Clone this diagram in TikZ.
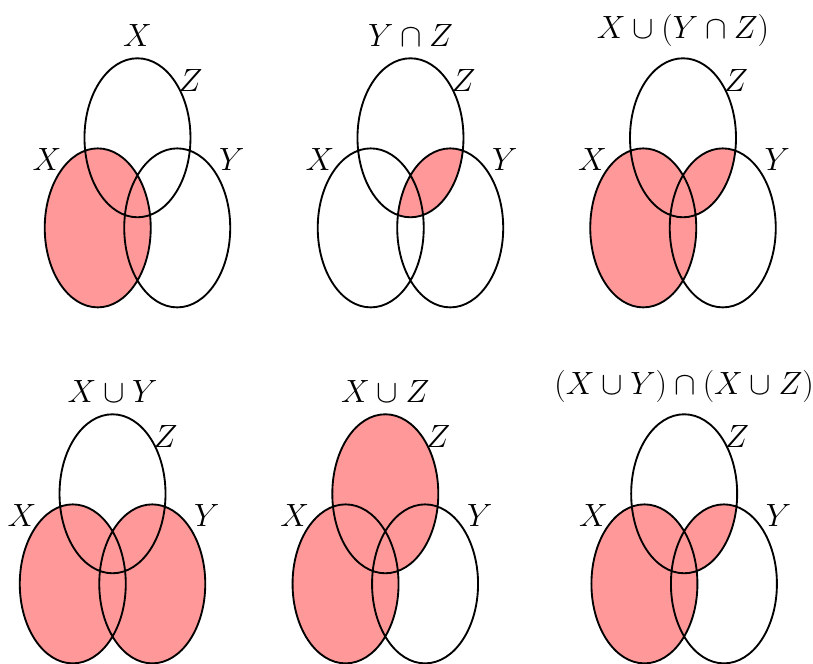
\documentclass[tikz,border=0pt]{standalone}
\usepackage{amsmath}
\usepackage{tikz}
\usetikzlibrary{calc, positioning}

\begin{document}
\begin{tikzpicture}[
    set/.style={draw, line width=1pt},
    shade/.style={fill=red!40},
    title/.style={font=\LARGE, above=1mm, inner sep=0.3333em},
    lbl/.style={font=\LARGE}
]
\useasboundingbox (0,0) rectangle (15.34,12.528);

% --- centres: Z on top, X and Y below ---
\coordinate (Z1) at (2.594, 9.928);
\coordinate (Z2) at (7.745, 9.928);
\coordinate (Z3) at (12.887, 9.928);
\coordinate (Z4) at (2.123, 3.211);
\coordinate (Z5) at (7.270, 3.211);
\coordinate (Z6) at (12.909, 3.211);
\foreach \i in {1,...,6} {
    \coordinate (X\i) at ($(Z\i)+(-0.75,-1.7)$);
    \coordinate (Y\i) at ($(Z\i)+(0.75,-1.7)$);
}

% --- X ---
\fill[shade] (X1) ellipse (1 and 1.5);

% --- Y cap Z ---
\begin{scope}
    \clip (Y2) ellipse (1 and 1.5);
    \fill[shade] (Z2) ellipse (1 and 1.5);
\end{scope}

% --- X cup (Y cap Z) ---
\fill[shade] (X3) ellipse (1 and 1.5);
\begin{scope}
    \clip (Y3) ellipse (1 and 1.5);
    \fill[shade] (Z3) ellipse (1 and 1.5);
\end{scope}

% --- X cup Y ---
\fill[shade] (X4) ellipse (1 and 1.5) (Y4) ellipse (1 and 1.5);

% --- X cup Z ---
\fill[shade] (X5) ellipse (1 and 1.5) (Z5) ellipse (1 and 1.5);

% --- (X cup Y) cap (X cup Z) ---
\fill[shade] (X6) ellipse (1 and 1.5);
\begin{scope}
    \clip (Y6) ellipse (1 and 1.5);
    \fill[shade] (Z6) ellipse (1 and 1.5);
\end{scope}

% --- outlines and set labels ---
\foreach \i in {1,...,6} {
    \draw[set] (X\i) ellipse (1 and 1.5) (Y\i) ellipse (1 and 1.5) (Z\i) ellipse (1 and 1.5);
    \node[lbl] (LX\i) at ($(X\i)+(-0.96,1.29)$) {$X$};
    \node[lbl] (LY\i) at ($(Y\i)+(1.03,1.29)$) {$Y$};
    \node[lbl] (LZ\i) at ($(Z\i)+(1.0,1.085)$) {$Z$};
}

% --- titles ---
\node[title] (T1) at ($(Z1)+(0,1.5)$) {$X$};
\node[title] (T2) at ($(Z2)+(0,1.5)$) {$Y \cap Z$};
\node[title] (T3) at ($(Z3)+(0,1.5)$) {$X \cup (Y \cap Z)$};
\node[title] (T4) at ($(Z4)+(0,1.5)$) {$X \cup Y$};
\node[title] (T5) at ($(Z5)+(0,1.5)$) {$X \cup Z$};
\node[title] (T6) at ($(Z6)+(0,1.5)$) {$(X \cup Y) \cap (X \cup Z)$};

\end{tikzpicture}
\end{document}
